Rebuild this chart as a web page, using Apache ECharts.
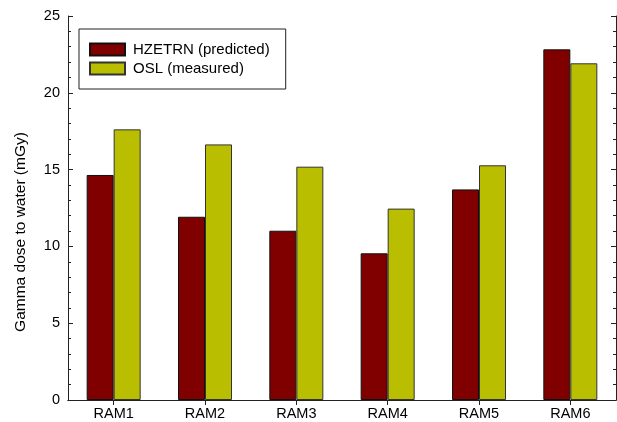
<!DOCTYPE html>
<html><head><meta charset="utf-8">
<script src="https://cdn.jsdelivr.net/npm/echarts@6/dist/echarts.min.js"></script>
<style>html,body{margin:0;padding:0;background:#fff}#c{width:617px;height:422px}</style>
</head><body><div id="c"></div>
<script>
const categories = ['RAM1','RAM2','RAM3','RAM4','RAM5','RAM6'];
const hzetrn = [14.65, 11.93, 11.02, 9.55, 13.71, 22.83];
const osl = [17.62, 16.64, 15.19, 12.46, 15.28, 21.92];
const seriesNames = ['HZETRN (predicted)', 'OSL (measured)'];
const yTicks = [0, 5, 10, 15, 20, 25];
const yTitle = 'Gamma dose to water (mGy)';

const font = 'Liberation Sans, Arial, Helvetica, sans-serif';
const axisColor = '#222';
const chart = echarts.init(document.getElementById('c'), null, {renderer: 'canvas'});
chart.setOption({
  animation: false,
  backgroundColor: '#fff',
  grid: {left: 68, right: 1, top: 16, bottom: 22, containLabel: false},
  legend: {
    orient: 'vertical', left: 79, top: 29,
    padding: [13, 16, 13, 10],
    borderColor: '#222', borderWidth: 1,
    itemWidth: 35, itemHeight: 12, itemGap: 4,
    icon: 'rect',
    textStyle: {fontFamily: font, fontSize: 15, color: '#000', padding: [0,0,0,3]},
    data: seriesNames
  },
  xAxis: [{
    type: 'category', data: categories, position: 'bottom',
    axisLine: {lineStyle: {color: axisColor, width: 1}},
    axisTick: {show: false},
    axisLabel: {fontFamily: font, fontSize: 14.5, color: '#000', margin: 6}
  }, {
    type: 'category', data: categories, position: 'top',
    axisLine: {lineStyle: {color: axisColor, width: 1}},
    axisTick: {show: true, inside: true, alignWithLabel: true, length: 5, lineStyle: {color: axisColor}},
    axisLabel: {show: false}
  }],
  yAxis: [{
    type: 'value', min: yTicks[0], max: yTicks[yTicks.length-1], interval: 5, position: 'left',
    axisLine: {show: true, lineStyle: {color: axisColor, width: 1}},
    axisTick: {show: true, inside: true, length: 5, lineStyle: {color: axisColor}},
    minorTick: {show: true, splitNumber: 5, length: 3, lineStyle: {color: axisColor}},
    splitLine: {show: false},
    axisLabel: {fontFamily: font, fontSize: 14.5, color: '#000', margin: 8}
  }, {
    type: 'value', min: yTicks[0], max: yTicks[yTicks.length-1], interval: 5, position: 'right',
    axisLine: {show: true, lineStyle: {color: axisColor, width: 1}},
    axisTick: {show: true, inside: true, length: 5, lineStyle: {color: axisColor}},
    minorTick: {show: true, splitNumber: 5, length: 3, lineStyle: {color: axisColor}},
    splitLine: {show: false},
    axisLabel: {show: false}
  }],
  graphic: [{
    type: 'text', x: 21, y: 232, rotation: Math.PI / 2,
    style: {text: yTitle, font: '15.5px ' + font, fill: '#000', align: 'center', verticalAlign: 'middle'}
  }],
  series: [{
    name: seriesNames[0], type: 'bar', data: hzetrn, xAxisIndex: 0, yAxisIndex: 0,
    barWidth: 27, barGap: '0%',
    itemStyle: {color: '#800000', borderColor: '#111', borderWidth: 1}
  }, {
    name: seriesNames[1], type: 'bar', data: osl, xAxisIndex: 0, yAxisIndex: 0,
    barWidth: 27, barGap: '0%',
    itemStyle: {color: '#b9bf00', borderColor: '#333', borderWidth: 1}
  }]
});
</script></body></html>
